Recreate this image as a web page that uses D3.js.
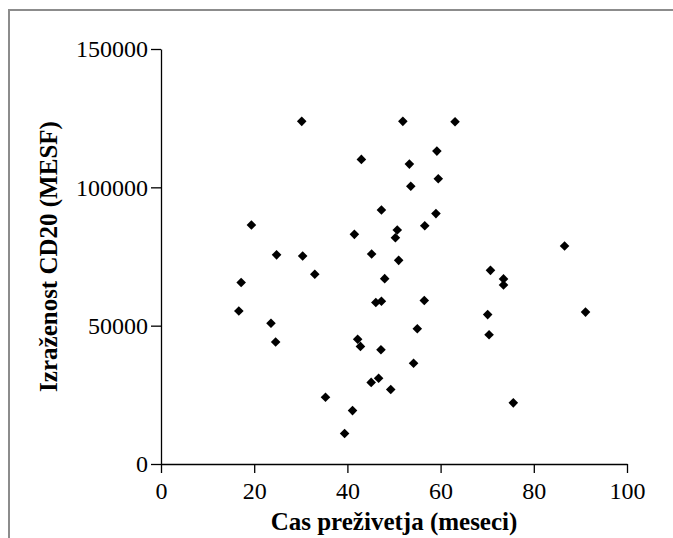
<!DOCTYPE html>
<html>
<head>
<meta charset="utf-8">
<script src="https://cdn.jsdelivr.net/npm/d3@7"></script>
<style>
  body { margin: 0; background: #fff; }
  .chart text { font-family: "Liberation Serif", "Times New Roman", serif; fill: #000; }
  .axis path, .axis line { stroke: #000; stroke-width: 1.3; }
</style>
</head>
<body>
<div class="chart"></div>
<script>
// survival time (months) vs CD20 expression (MESF)
let survivalMonths = [
  30.2, 51.9, 63.1, 59.2, 43.0, 53.3, 59.5, 53.6, 47.3, 59.0,
  19.4, 56.6, 50.7, 41.5, 50.3, 86.6, 24.8, 30.4, 45.2, 51.0,
  70.7, 33.0, 48.0, 73.5, 17.2, 73.5, 46.1, 47.3, 56.5, 16.7,
  91.1, 70.1, 23.6, 55.0, 70.4, 42.2, 24.6, 42.8, 47.2, 54.2,
  46.7, 45.1, 49.3, 35.3, 75.6, 41.1, 39.4
];
let cd20Expression = [
  123850, 123850, 123700, 113100, 110100, 108400, 103100, 100400, 91800, 90500,
  86400, 86100, 84600, 83000, 81800, 78800, 75600, 75200, 75900, 73600,
  70000, 68600, 67000, 66900, 65600, 64700, 58400, 58800, 59100, 55300,
  54900, 54000, 50900, 48900, 46700, 45100, 44100, 42500, 41300, 36400,
  31000, 29500, 26900, 24100, 22100, 19300, 11000
];
let xTicks = [0, 20, 40, 60, 80, 100];
let yTicks = [0, 50000, 100000, 150000];
let xTitle = "Cas preživetja (meseci)";
let yTitle = "Izraženost CD20 (MESF)";

let svgWidth = 673;
let svgHeight = 538;
let margin = { top: 49, right: 46, bottom: 74, left: 161 };
let width = svgWidth - margin.left - margin.right;
let height = svgHeight - margin.top - margin.bottom;

let svg = d3.select(".chart")
  .append("svg")
  .attr("width", svgWidth)
  .attr("height", svgHeight);

// grey frame, open to the right and bottom edges
svg.append("path")
  .attr("d", `M9,${svgHeight + 2} V10 H${svgWidth + 2}`)
  .attr("fill", "none")
  .attr("stroke", "#8c8c8c")
  .attr("stroke-width", 2);

let chartGroup = svg.append("g")
  .attr("transform", `translate(${margin.left}, ${margin.top})`);

let xScale = d3.scaleLinear().domain([0, 100]).range([0, width]);
let yScale = d3.scaleLinear().domain([0, 150000]).range([height, 0]);

let bottomAxis = d3.axisBottom(xScale)
  .tickValues(xTicks)
  .tickSize(9)
  .tickPadding(9)
  .tickSizeOuter(0);
let leftAxis = d3.axisLeft(yScale)
  .tickValues(yTicks)
  .tickFormat(d3.format("d"))
  .tickSize(10)
  .tickPadding(3)
  .tickSizeOuter(0);

chartGroup.append("g")
  .attr("class", "axis")
  .attr("transform", `translate(0, ${height})`)
  .call(bottomAxis)
  .selectAll("text")
  .style("font-size", "24px");

chartGroup.append("g")
  .attr("class", "axis")
  .call(leftAxis)
  .selectAll("text")
  .style("font-size", "24px");

// diamonds
let diamond = d3.symbol().type(d3.symbolSquare).size(46);
chartGroup.selectAll("path.pt")
  .data(survivalMonths)
  .enter()
  .append("path")
  .attr("class", "pt")
  .attr("d", diamond)
  .attr("transform", (d, i) => `translate(${xScale(d)}, ${yScale(cd20Expression[i])}) rotate(45)`)
  .attr("fill", "#000");

// axis titles
chartGroup.append("text")
  .attr("x", width / 2)
  .attr("y", height + 66)
  .attr("text-anchor", "middle")
  .style("font-size", "25px")
  .style("font-weight", "bold")
  .text(xTitle);

chartGroup.append("text")
  .attr("transform", "rotate(-90)")
  .attr("x", -height / 2)
  .attr("y", 57 - margin.left)
  .attr("text-anchor", "middle")
  .style("font-size", "25px")
  .style("font-weight", "bold")
  .text(yTitle);
</script>
</body>
</html>
